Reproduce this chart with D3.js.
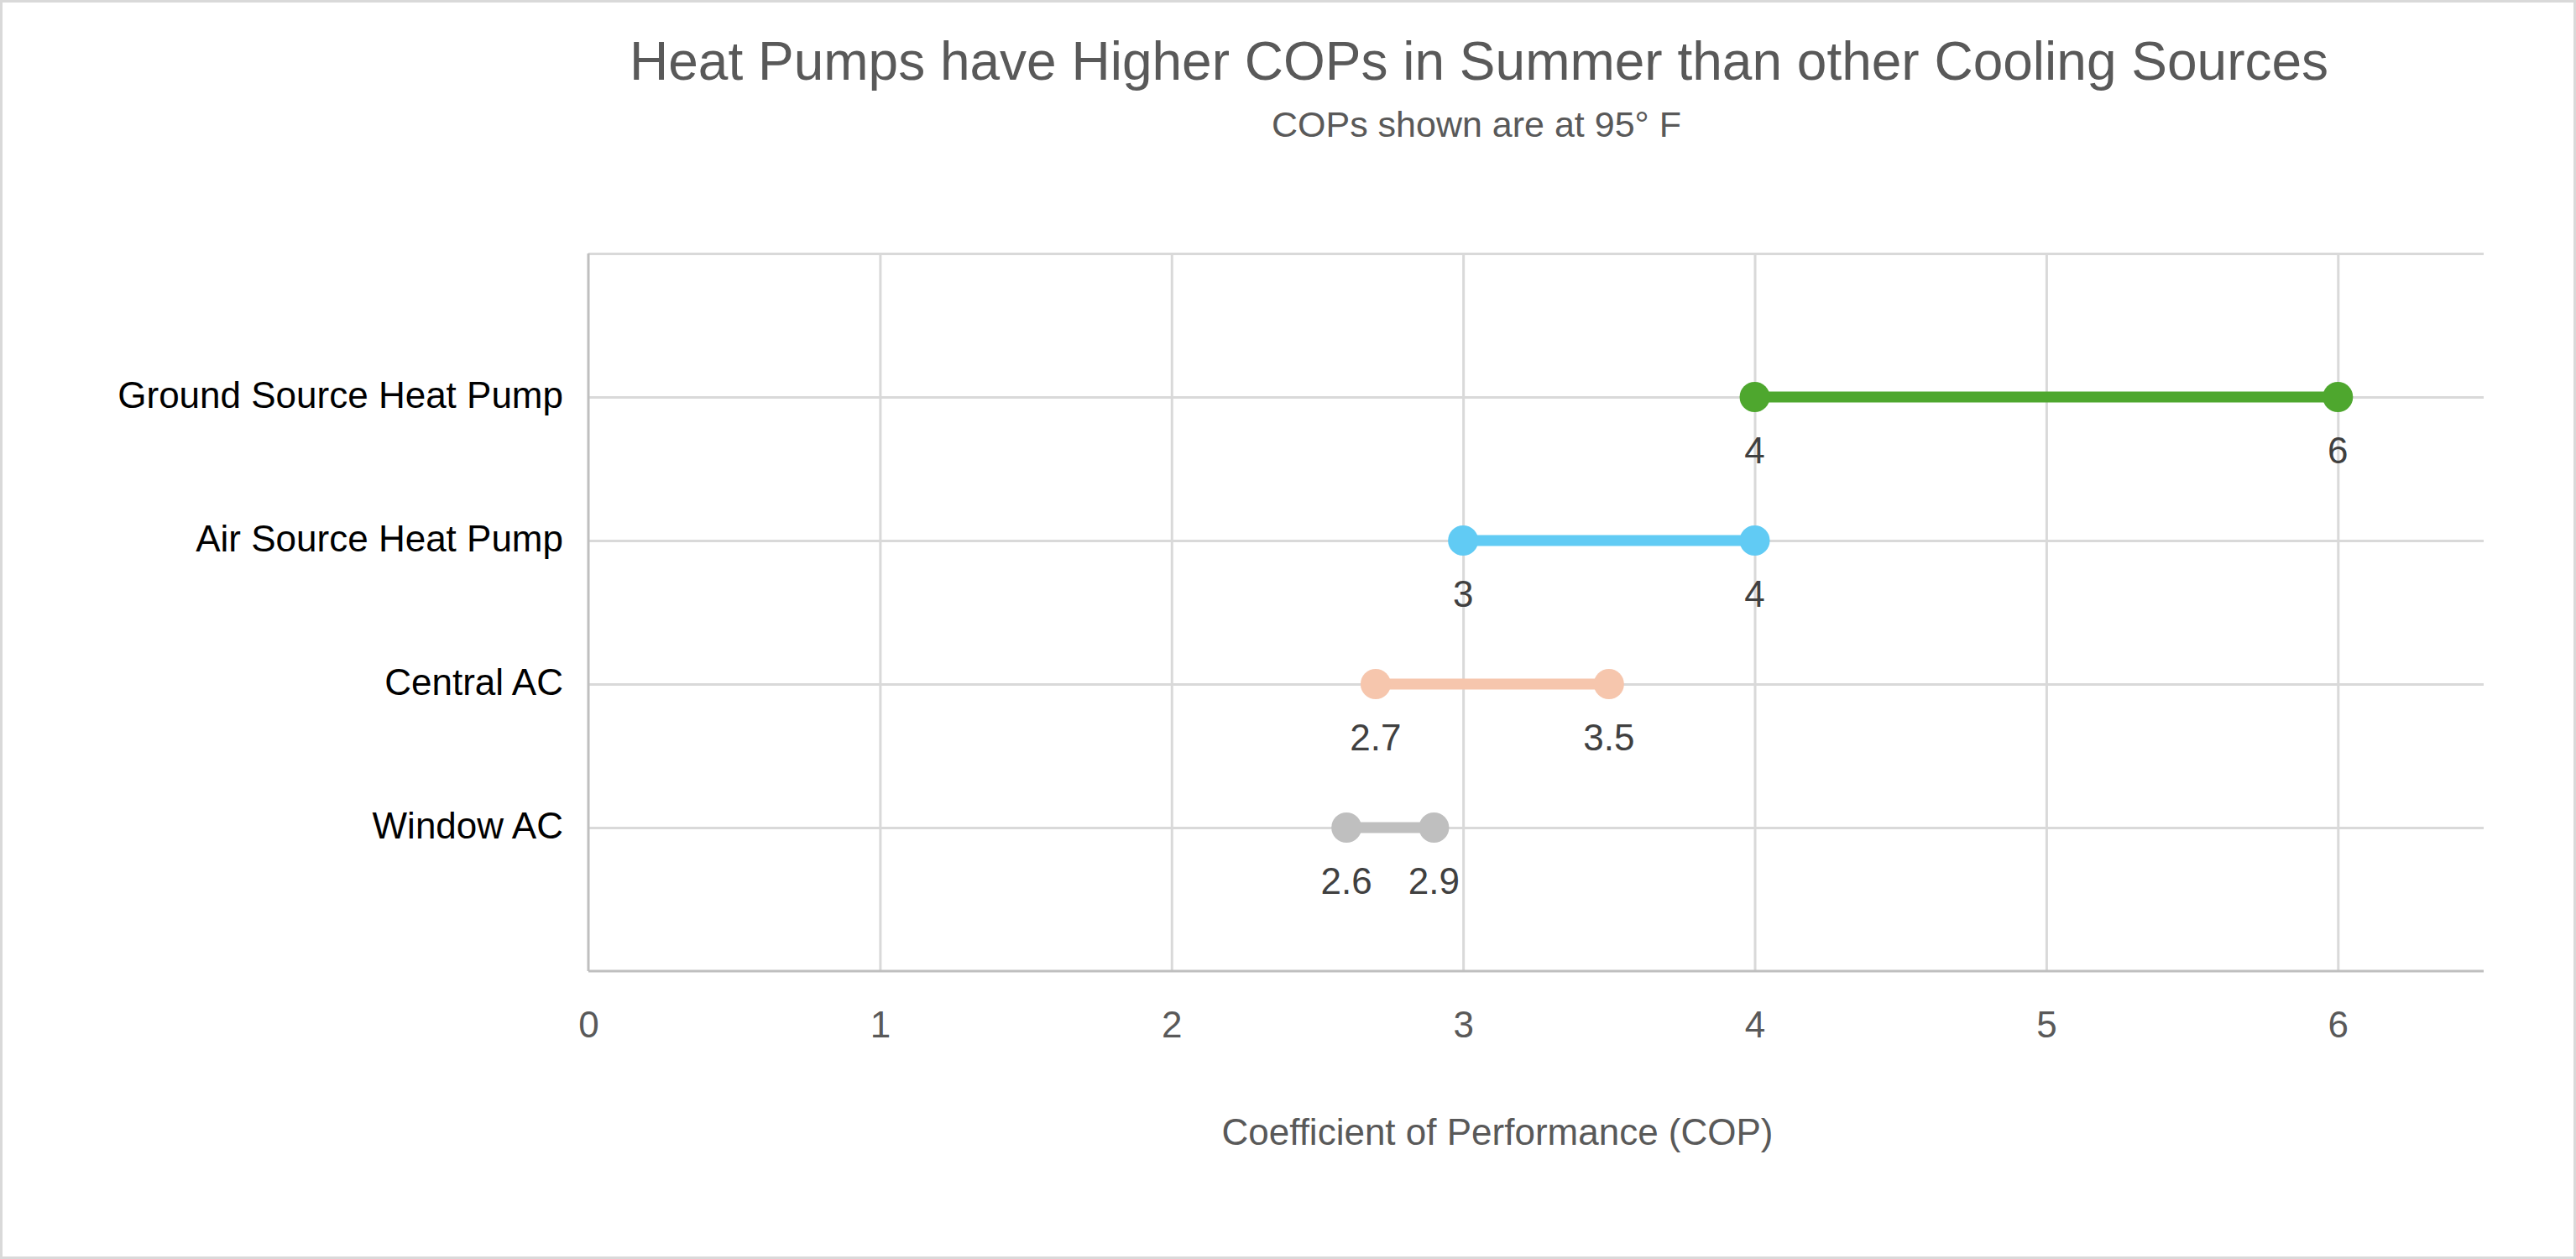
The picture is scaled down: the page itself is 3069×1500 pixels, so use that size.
<!DOCTYPE html>
<html>
<head>
<meta charset="utf-8">
<script src="https://cdn.jsdelivr.net/npm/d3@7"></script>
<style>
  body { margin: 0; background: #fff; }
  text { font-family: "Liberation Sans", Arial, sans-serif; }
</style>
</head>
<body>
<svg id="vis" width="3069" height="1500"></svg>
<script>
// Datos del gráfico
const categorias = ["Ground Source Heat Pump", "Air Source Heat Pump", "Central AC", "Window AC"];
const copMin = [4, 3, 2.7, 2.6];
const copMax = [6, 4, 3.5, 2.9];
const filaY = [4, 3, 2, 1];
const ticksX = [0, 1, 2, 3, 4, 5, 6];

// Colores de cada serie
const colores = ["#4ea72e", "#61cbf4", "#f6c6ad", "#bfbfbf"];

const SVG = d3.select("#vis");

// Marco del gráfico
SVG.append("rect")
  .attr("x", 1.5).attr("y", 1.5)
  .attr("width", 3066).attr("height", 1497)
  .attr("fill", "#fff")
  .attr("stroke", "#d9d9d9")
  .attr("stroke-width", 3);

const margen = { left: 701, right: 2959, top: 302, bottom: 1157 };

const x = d3.scaleLinear().domain([0, 6.5]).range([margen.left, margen.right]);
const y = d3.scaleLinear().domain([0, 5]).range([margen.bottom, margen.top]);

// Líneas de grilla verticales
SVG.append("g")
  .attr("transform", `translate(0, ${margen.bottom})`)
  .call(d3.axisBottom(x).tickValues(ticksX.slice(1)).tickSize(-(margen.bottom - margen.top)).tickFormat(""))
  .call(g => g.select(".domain").remove())
  .call(g => g.selectAll("line").attr("stroke", "#d9d9d9").attr("stroke-width", 3));

// Líneas de grilla horizontales
SVG.append("g")
  .attr("transform", `translate(${margen.left}, 0)`)
  .call(d3.axisLeft(y).tickValues([1, 2, 3, 4, 5]).tickSize(-(margen.right - margen.left)).tickFormat(""))
  .call(g => g.select(".domain").remove())
  .call(g => g.selectAll("line").attr("stroke", "#d9d9d9").attr("stroke-width", 3));

// Eje X
const ejeX = SVG.append("g")
  .attr("transform", `translate(0, ${margen.bottom})`)
  .call(d3.axisBottom(x).tickValues(ticksX).tickSize(0).tickPadding(48).tickFormat(d3.format("d")));
ejeX.select(".domain").attr("stroke", "#bfbfbf").attr("stroke-width", 3)
  .attr("d", `M${margen.left},0H${margen.right}`);
ejeX.selectAll("text").attr("fill", "#595959").attr("font-size", 44);

// Eje Y con las categorías
const ejeY = SVG.append("g")
  .attr("transform", `translate(${margen.left}, 0)`)
  .call(d3.axisLeft(y).tickValues(filaY).tickSize(0).tickPadding(30)
    .tickFormat(v => categorias[filaY.indexOf(v)]));
ejeY.select(".domain").attr("stroke", "#bfbfbf").attr("stroke-width", 3)
  .attr("d", `M0,${margen.bottom}V${margen.top}`);
ejeY.selectAll("text").attr("fill", "#000").attr("font-size", 44).attr("dy", "0.28em");

// Barras tipo pesa (dumbbell)
const filas = SVG.selectAll(".fila")
  .data(categorias)
  .join("g")
  .attr("class", "fila");

filas.append("line")
  .attr("x1", (d, i) => x(copMin[i]))
  .attr("x2", (d, i) => x(copMax[i]))
  .attr("y1", (d, i) => y(filaY[i]))
  .attr("y2", (d, i) => y(filaY[i]))
  .attr("stroke", (d, i) => colores[i])
  .attr("stroke-width", 13);

filas.selectAll("circle")
  .data((d, i) => [copMin[i], copMax[i]].map(v => ({ v, i })))
  .join("circle")
  .attr("cx", d => x(d.v))
  .attr("cy", d => y(filaY[d.i]))
  .attr("r", 18)
  .attr("fill", d => colores[d.i]);

// Etiquetas de datos
filas.selectAll(".etiqueta")
  .data((d, i) => [copMin[i], copMax[i]].map(v => ({ v, i })))
  .join("text")
  .attr("class", "etiqueta")
  .attr("x", d => x(d.v))
  .attr("y", d => y(filaY[d.i]) + 64)
  .attr("dy", "0.35em")
  .attr("text-anchor", "middle")
  .attr("font-size", 44)
  .attr("fill", "#404040")
  .text(d => d.v);

// Títulos
SVG.append("text")
  .attr("x", 1762).attr("y", 95)
  .attr("text-anchor", "middle")
  .attr("font-size", 64)
  .attr("fill", "#595959")
  .text("Heat Pumps have Higher COPs in Summer than other Cooling Sources");

SVG.append("text")
  .attr("x", 1759).attr("y", 163)
  .attr("text-anchor", "middle")
  .attr("font-size", 43)
  .attr("fill", "#595959")
  .text("COPs shown are at 95° F");

SVG.append("text")
  .attr("x", 1784).attr("y", 1364)
  .attr("text-anchor", "middle")
  .attr("font-size", 44)
  .attr("fill", "#595959")
  .text("Coefficient of Performance (COP)");
</script>
</body>
</html>
